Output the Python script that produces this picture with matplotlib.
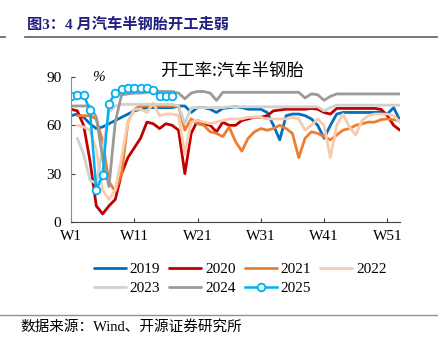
import numpy as np
import matplotlib.pyplot as plt

nan = np.nan

# weekly tyre operating rate (%), W1..W53
weeks = list(range(1, 54))
tick_weeks = [1, 11, 21, 31, 41, 51]
tick_labels = ["W1", "W11", "W21", "W31", "W41", "W51"]

y2019 = [66, 67, 65, 61, 58, 59, 61, 63, 65, 67, 69, 70, 71, 71, 71, 71, 71, 72, 72, 68,
         71, 71, 70, 68, 70.5, 71, 71.5, 71, 70, 70, 70, 68, 60, 51, 66, 67, 67, 66, 64, 60,
         52, 60, 67, 68, 68, 68, 68, 68, 68, 68.5, 67, 71, 63]
y2020 = [70, 69, 60, 38, 10, 5, 10, 14, 30, 40, 46, 52, 62, 61, 58, 61, 60, 57, 30, 55,
         63, 61, 60, 56, 62, 60, 60, 63, 64, 65, 65, 66, 69, 69.5, 70, 70, 70, 70, 70.5, 70,
         68, 67, 70.5, 70.5, 70.5, 70.5, 70.5, 70.5, 70.5, 70, 66, 60, 57]
y2021 = [nan, 66, 66, 66, 64, 50, 25, 19, 30, 62, 70, 72, 72, 72, 72, 72, 72, 72, 57, 64,
         61, 60, 56, 55, 53, 59, 50, 44, 52, 56, 58, 57, 58, 60, 58, 55, 40, 52, 56, 55,
         53, 51, 54, 57, 58, 60, 61, 62, 62, 63.5, 64, 63.5, 63]
y2022 = [nan, 60, 59, 57, 45, 20, 14, 20, 40, 62, 70, 70, 68, 74, 66, 67, 67, 66, 42, 62,
         63, 62, 61, 62, 63, 64, 64, 64, 65, 65, 65, 64, 64, 64, 64, 65, 64, 57, 60, 64,
         60, 40, 60, 67, 59, 54, 63, 66, 67, 67, 67, 66, 62]
y2023 = [nan, 52, 42, 26, 24, 45, 68, 72, 73, 73, 73, 73, 73, 73, 73, 73, 73, 72, 61, 71,
         71, 71, 71, 71, 71, 71.5, 71.5, 71.5, 71.5, 71.5, 71.5, 71.5, 71.5, 71.5, 71.5, 71.5, 71.5, 71.5, 71.5, 71.5,
         69, 71, 72.5, 72.5, 72.5, 72.5, 72.5, 72.5, 72.5, 72.5, 72.5, 72.5, 72.5]
y2024 = [72, 72, 72, 72, 65, 40, 22, 62, 79, 79.5, 80, 80, 80.5, 81, 81, 81, 81, 80, 76.5, 80,
         81, 81, 80, 75.5, 80.5, 80.5, 80.5, 80.5, 80.5, 80.5, 80.5, 80.5, 80.5, 80.5, 80.5, 80.5, 80.5, 77, 79.5, 79,
         75.5, 78, 79.5, 79.5, 79.5, 79.5, 79.5, 79.5, 79.5, 79.5, 79.5, 79.5, 79.5]
y2025 = [78.3, 78.7, 78.7, 69.7, 19.7, 29.4, 73.5, 80, 82.4, 83, 83, 83, 83, 82.2, 78.3, 78.3, 78.3]

series = [("2019", y2019, "#0070c0"), ("2020", y2020, "#c00000"), ("2021", y2021, "#ed7d31"),
          ("2022", y2022, "#f8cbad"), ("2023", y2023, "#d0d0d0"), ("2024", y2024, "#9a9a9a")]

font = ['Liberation Serif', 'Noto Sans CJK SC']
plt.rcParams['font.family'] = font

fig = plt.figure(figsize=(4.39, 3.45), dpi=100)
ax = fig.add_axes([0.1617, 0.3565, 0.7494, 0.4203])

lines = []
for name, vals, col in series:
    l, = ax.plot(weeks, vals, color=col, lw=2.0, label=name, solid_joinstyle='round', solid_capstyle='round')
    lines.append(l)
l, = ax.plot(weeks[:len(y2025)], y2025, color="#00b0f0", lw=1.8, marker='o', ms=5.5, mfc='white',
             mec="#00b0f0", mew=1.3, label="2025")
lines.append(l)

ax.set_xlim(1, 53)
ax.set_ylim(0, 90)
ax.set_yticks([0, 30, 60, 90])
ax.set_xticks(tick_weeks)
ax.set_xticklabels(tick_labels)
ax.tick_params(direction='in', length=3, labelsize=11, colors='#404040', labelcolor='black')
ax.tick_params(axis='y', pad=7)
ax.tick_params(axis='x', pad=6)
for s in ['top', 'right']:
    ax.spines[s].set_visible(False)
ax.spines['left'].set_color('#8c8c8c')
ax.spines['bottom'].set_color('#404040')

fig.text(0.225, 0.776, "%", fontsize=11, ha='center', va='center', style='italic')
fig.text(0.528, 0.795, "开工率:汽车半钢胎", fontsize=12.5, ha='center', va='center', family=['Noto Sans CJK SC'])

# legend filled column by column, so reorder to get rows 2019-2022 / 2023-2025
order = [0, 4, 1, 5, 2, 6, 3]
fig.legend([lines[i] for i in order], [lines[i].get_label() for i in order],
           loc='center', bbox_to_anchor=(0.547, 0.191), ncol=4, frameon=False, fontsize=11,
           handlelength=2.1, handletextpad=0.25, columnspacing=0.6, labelspacing=0.35, borderpad=0)

# title bar and source line
fig.text(0.061, 0.930, "图3：4 月汽车半钢胎开工走弱", fontsize=11, fontweight='bold', color='#1f2080',
         ha='left', va='center')
fig.add_artist(plt.Line2D([0.057, 0.996], [0.893, 0.893], color='#606060', lw=1.2))
fig.add_artist(plt.Line2D([0.0, 0.012], [0.893, 0.893], color='#606060', lw=1.2))
fig.add_artist(plt.Line2D([0.0, 1.0], [0.087, 0.087], color='#909090', lw=1.0))
fig.text(0.046, 0.052, "数据来源：Wind、开源证券研究所", fontsize=10.5, ha='left', va='center')

plt.savefig("out.png", dpi=100)
